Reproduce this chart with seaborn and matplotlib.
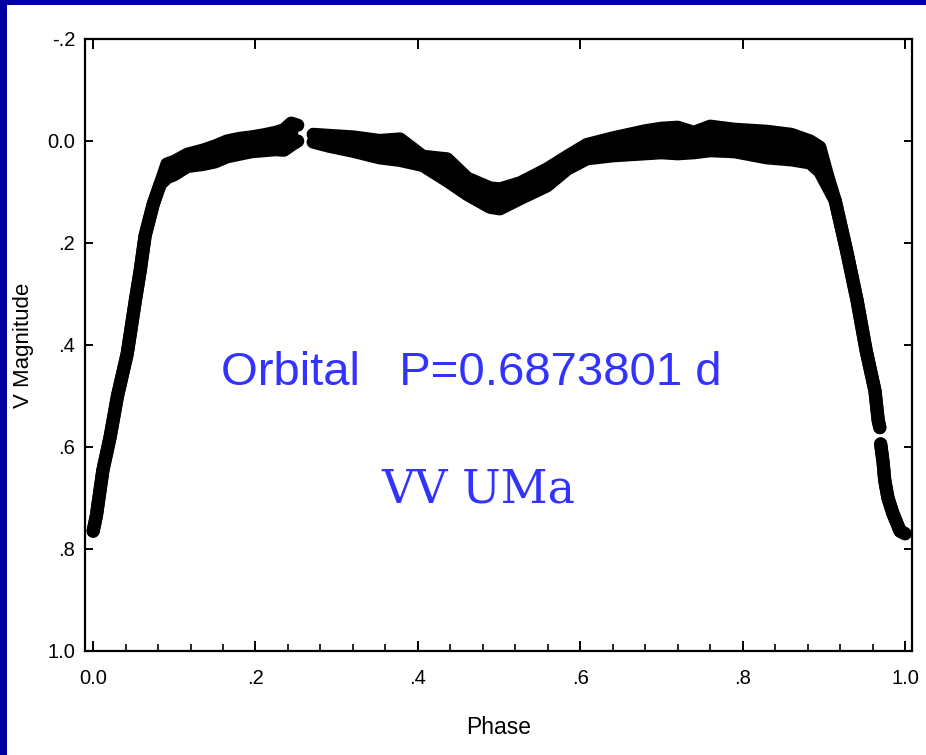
import numpy as np
import pandas as pd
import matplotlib
matplotlib.use("Agg")
import matplotlib.pyplot as plt
from matplotlib.patches import Rectangle
from matplotlib.ticker import MultipleLocator
import seaborn as sns

# ---------------- data ----------------
# segment 1: rising branch and first maximum
phase_1 = [0.000, 0.004, 0.012, 0.021, 0.030, 0.042, 0.052, 0.058, 0.064, 0.074,
           0.0825, 0.091, 0.100, 0.116, 0.135, 0.150, 0.165, 0.180, 0.195, 0.210,
           0.225, 0.235, 0.244, 0.252]
bright_1 = [0.765, 0.735, 0.646, 0.580, 0.500, 0.417, 0.313, 0.254, 0.186, 0.124,
            0.085, 0.045, 0.040, 0.026, 0.018, 0.010, 0.000, -0.005, -0.008, -0.012,
            -0.017, -0.022, -0.035, -0.031]
faint_1 = [0.765, 0.735, 0.646, 0.580, 0.500, 0.417, 0.313, 0.254, 0.186, 0.124,
           0.085, 0.072, 0.066, 0.050, 0.046, 0.041, 0.031, 0.026, 0.021, 0.019,
           0.017, 0.018, 0.008, 0.000]
# segment 2: secondary minimum, second maximum, descending branch
phase_2 = [0.271, 0.290, 0.320, 0.353, 0.378, 0.406, 0.436, 0.461, 0.489, 0.501,
           0.526, 0.559, 0.584, 0.608, 0.640, 0.680, 0.700, 0.720, 0.740, 0.760,
           0.790, 0.830, 0.860, 0.883, 0.895, 0.905, 0.914, 0.928, 0.941, 0.952,
           0.963, 0.967, 0.969]
bright_2 = [-0.013, -0.011, -0.008, -0.001, -0.004, 0.030, 0.035, 0.073, 0.092, 0.094,
            0.082, 0.055, 0.030, 0.007, -0.006, -0.020, -0.025, -0.027, -0.017, -0.029,
            -0.023, -0.019, -0.013, 0.000, 0.012, 0.070, 0.117, 0.215, 0.313, 0.410,
            0.490, 0.548, 0.562]
faint_2 = [0.002, 0.010, 0.020, 0.033, 0.038, 0.048, 0.078, 0.105, 0.130, 0.133,
           0.113, 0.088, 0.055, 0.035, 0.029, 0.025, 0.023, 0.025, 0.023, 0.019,
           0.021, 0.033, 0.037, 0.043, 0.060, 0.090, 0.117, 0.215, 0.313, 0.410,
           0.490, 0.548, 0.562]
# segment 3: bottom of primary minimum
phase_3 = [0.970, 0.973, 0.975, 0.979, 0.985, 0.994, 1.000]
bright_3 = [0.594, 0.630, 0.665, 0.700, 0.730, 0.765, 0.770]
faint_3 = [0.594, 0.630, 0.665, 0.700, 0.730, 0.765, 0.770]

xtick_vals = [0.0, 0.2, 0.4, 0.6, 0.8, 1.0]
xtick_labels = ["0.0", ".2", ".4", ".6", ".8", "1.0"]
ytick_vals = [-0.2, 0.0, 0.2, 0.4, 0.6, 0.8, 1.0]
ytick_labels = ["-.2", "0.0", ".2", ".4", ".6", ".8", "1.0"]

title_text = "Orbital   P=0.6873801 d"
star_text = "VV UMa"

# ---------------- build long table ----------------
segments = [(phase_1, bright_1, faint_1), (phase_2, bright_2, faint_2), (phase_3, bright_3, faint_3)]
rows = []
for si, (ph, br, fa) in enumerate(segments):
    for p, b in zip(ph, br):
        rows.append({"phase": p, "mag": b, "trace": f"s{si}_bright"})
    for p, f in zip(ph, fa):
        rows.append({"phase": p, "mag": f, "trace": f"s{si}_faint"})
df = pd.DataFrame(rows)

# ---------------- figure ----------------
plt.rcParams["font.family"] = ["Liberation Sans", "DejaVu Sans"]
W, H = 926, 755
fig = plt.figure(figsize=(W / 100, H / 100), dpi=100)
fig.patch.set_facecolor("#0000A0")
fig.patches.append(Rectangle((7 / W, 0), 1, (H - 5) / H, transform=fig.transFigure,
                             facecolor="white", edgecolor="none", zorder=-10))

ax = fig.add_axes([85 / W, 1 - 651 / H, (912 - 85) / W, (651 - 39) / H])
ax.set_zorder(1)
ax.set_facecolor("white")

ink = "black"
for ph, br, fa in segments:
    ax.fill_between(ph, br, fa, color=ink, linewidth=0, zorder=2)

sns.lineplot(data=df, x="phase", y="mag", units="trace", estimator=None, sort=False,
             color=ink, lw=9.5, solid_capstyle="round", solid_joinstyle="round",
             legend=False, ax=ax, zorder=3)

ax.set_xlim(-0.01, 1.0086)
ax.set_ylim(1.0, -0.2)

ax.set_xticks(xtick_vals)
ax.set_xticklabels(xtick_labels)
ax.set_yticks(ytick_vals)
ax.set_yticklabels(ytick_labels)
ax.xaxis.set_minor_locator(MultipleLocator(0.04))

for s in ax.spines.values():
    s.set_color("black")
    s.set_linewidth(1.6)

ax.tick_params(axis="x", which="major", direction="in", length=7.5, width=1.4,
               top=True, bottom=True, labelsize=14.5, pad=13, colors="black")
ax.tick_params(axis="x", which="minor", direction="in", length=5, width=1.2,
               top=False, bottom=True)
ax.tick_params(axis="y", which="major", direction="in", length=5.5, width=1.4,
               left=True, right=True, labelsize=14.5, pad=7, colors="black")

ax.set_xlabel("Phase", fontsize=16.5, color="black")
ax.set_ylabel("V Magnitude", fontsize=16, color="black")
ax.xaxis.set_label_coords(0.5, -0.106)
ax.yaxis.set_label_coords(-0.0617, 0.5)

ax.text(0.466, 0.479, title_text, fontsize=34, color="#3333FF", ha="center", va="baseline",
        family=["Liberation Sans", "DejaVu Sans"], zorder=4)
ax.text(0.474, 0.708, star_text, fontsize=33, color="#3333FF", ha="center", va="baseline",
        family=["DejaVu Serif"], zorder=4)

fig.savefig("out.png", dpi=100, facecolor=fig.get_facecolor())
